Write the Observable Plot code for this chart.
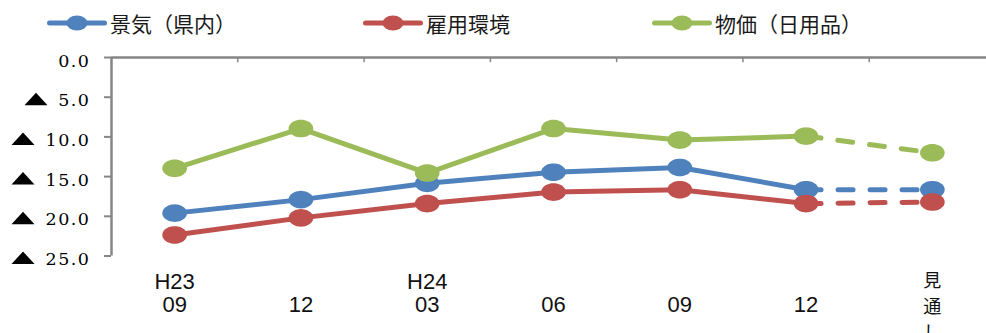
<!DOCTYPE html>
<html>
<head>
<meta charset="utf-8">
<script src="https://cdn.jsdelivr.net/npm/d3@7"></script>
<script src="https://cdn.jsdelivr.net/npm/@observablehq/plot@0.6"></script>
<style>
  html, body { margin: 0; padding: 0; background: #fff; }
  body { width: 986px; height: 333px; overflow: hidden; }
  #legend { position: relative; width: 986px; height: 40px; font-family: "Noto Sans CJK JP", sans-serif; font-size: 21px; color: #1a1a1a; }
  #legend .item { position: absolute; top: 3px; height: 40px; display: flex; align-items: center; white-space: nowrap; }
  #legend .item svg { display: block; }
  #legend .item span { margin-left: 3px; }
</style>
</head>
<body>
<div id="legend"></div>
<div id="chart"></div>
<script>
// ---- data ----
const periods = ["H23 09", "H23 12", "H24 03", "H24 06", "H24 09", "H24 12", "見通し"];
const yearLabels = ["H23", "", "H24", "", "", "", ""];
const monthLabels = ["09", "12", "03", "06", "09", "12", ""];
const forecastLabel = ["見", "通", "し"];
const seriesNames = ["景気（県内）", "雇用環境", "物価（日用品）"];
const keiki = [19.6, 17.9, 15.85, 14.45, 13.85, 16.65, 16.65];
const koyo  = [22.35, 20.2, 18.4, 16.95, 16.65, 18.4, 18.2];
const bukka = [13.95, 8.95, 14.55, 8.95, 10.4, 9.9, 12.0];
const colors = ["#4F81BD", "#C0504D", "#9BBB59"];
const yTicks = [0, 5, 10, 15, 20, 25];
const legendLeft = [47, 363, 652];

const seriesValues = [keiki, koyo, bukka];
const forecastIndex = periods.length - 1;

// ---- legend ----
const legend = document.getElementById("legend");
seriesNames.forEach((name, k) => {
  const item = document.createElement("div");
  item.className = "item";
  item.style.left = legendLeft[k] + "px";
  item.innerHTML = `<svg width="60" height="20"><line x1="2.5" y1="10" x2="57.5" y2="10" stroke="${colors[k]}" stroke-width="5" stroke-linecap="round"/><ellipse cx="30" cy="10" rx="10.5" ry="7.5" fill="${colors[k]}"/></svg><span>${name}</span>`;
  legend.appendChild(item);
});

// ---- symbols ----
const ellipse = {
  draw(ctx, size) {
    const r = Math.sqrt(size / Math.PI);
    const rx = r * 1.4, ry = r, n = 48;
    ctx.moveTo(rx, 0);
    for (let k = 1; k < n; k++) {
      const a = (2 * Math.PI * k) / n;
      ctx.lineTo(rx * Math.cos(a), ry * Math.sin(a));
    }
    ctx.closePath();
  }
};
const wideTriangle = {
  draw(ctx, size) {
    ctx.moveTo(0, -6.5);
    ctx.lineTo(11.5, 6);
    ctx.lineTo(-11.5, 6);
    ctx.closePath();
  }
};

// ---- data rows ----
const rows = [];
seriesValues.forEach((vals, k) => vals.forEach((v, i) => rows.push({series: seriesNames[k], k, i, value: v})));

const idx = d3.range(periods.length);
const boundaries = d3.range(1, periods.length).map(i => i - 0.5);
const axisGray = "#868686";

const seriesMarks = [];
seriesNames.forEach((name, k) => {
  const data = rows.filter(d => d.k === k);
  seriesMarks.push(
    Plot.line(data.filter(d => d.i <= forecastIndex - 1), {x: "i", y: "value", stroke: colors[k], strokeWidth: 5, strokeLinecap: "round", strokeLinejoin: "round"}),
    Plot.line(data.filter(d => d.i >= forecastIndex - 1), {x: "i", y: "value", stroke: colors[k], strokeWidth: 5, strokeLinecap: "round", strokeDasharray: "15 17"}),
    Plot.dot(data, {x: "i", y: "value", fill: colors[k], r: 8.8, symbol: ellipse, stroke: "none"})
  );
});

const chart = Plot.plot({
  width: 986,
  height: 293,
  marginLeft: 111,
  marginRight: 0,
  marginTop: 17,
  marginBottom: 77.5,
  x: {domain: [-0.5, periods.length - 0.5], range: [111, 995], axis: null},
  y: {domain: [0, 25], reverse: true, axis: null},
  style: {fontFamily: "DejaVu Serif", fontSize: "17px", color: "#000", background: "#fff"},
  marks: [
    Plot.ruleY([0], {stroke: axisGray, strokeWidth: 2.5}),
    Plot.ruleX(boundaries, {y1: 0, y2: 0.65, stroke: axisGray, strokeWidth: 1.5}),
    Plot.ruleX([-0.5], {y1: 0, y2: 25, stroke: axisGray, strokeWidth: 2.5}),
    Plot.axisY({ticks: yTicks, tickSize: 7, tickFormat: () => "", label: null, stroke: axisGray, strokeWidth: 2}),
    Plot.text(yTicks, {y: d => d, text: d => d.toFixed(1), frameAnchor: "left", dx: -21, dy: 3.5, textAnchor: "end", fontFamily: "DejaVu Serif", fontSize: 17.5, fill: "#000"}),
    Plot.dot(yTicks.filter(d => d > 0 && d < 10), {y: d => d, frameAnchor: "left", dx: -75.5, dy: 2, symbol: wideTriangle, fill: "#000", r: 5}),
    Plot.dot(yTicks.filter(d => d >= 10), {y: d => d, frameAnchor: "left", dx: -88.5, dy: 2, symbol: wideTriangle, fill: "#000", r: 5}),
    ...seriesMarks,
    Plot.text(idx, {x: d => d, text: d => yearLabels[d], frameAnchor: "bottom", dy: 33, lineAnchor: "bottom", fontFamily: "Liberation Sans", fontSize: 22, fill: "#111"}),
    Plot.text(idx, {x: d => d, text: d => monthLabels[d], frameAnchor: "bottom", dy: 56, lineAnchor: "bottom", fontFamily: "Liberation Sans", fontSize: 22, fill: "#111"}),
    Plot.text([forecastLabel[0]], {x: () => forecastIndex, text: d => d, frameAnchor: "bottom", dy: 31, lineAnchor: "bottom", fontFamily: "Noto Sans CJK JP", fontSize: 18, fill: "#111"}),
    Plot.text([forecastLabel[1]], {x: () => forecastIndex, text: d => d, frameAnchor: "bottom", dy: 57, lineAnchor: "bottom", fontFamily: "Noto Sans CJK JP", fontSize: 18, fill: "#111"}),
    Plot.text([forecastLabel[2]], {x: () => forecastIndex, text: d => d, frameAnchor: "bottom", dy: 83, lineAnchor: "bottom", fontFamily: "Noto Sans CJK JP", fontSize: 18, fill: "#111"})
  ]
});
document.getElementById("chart").appendChild(chart);

// widen the y tick labels a little (the reference digits are broad)
chart.querySelectorAll("text").forEach(t => {
  if (/^\d+\.\d$/.test(t.textContent)) t.style.letterSpacing = "1.5px";
});
</script>
</body>
</html>
